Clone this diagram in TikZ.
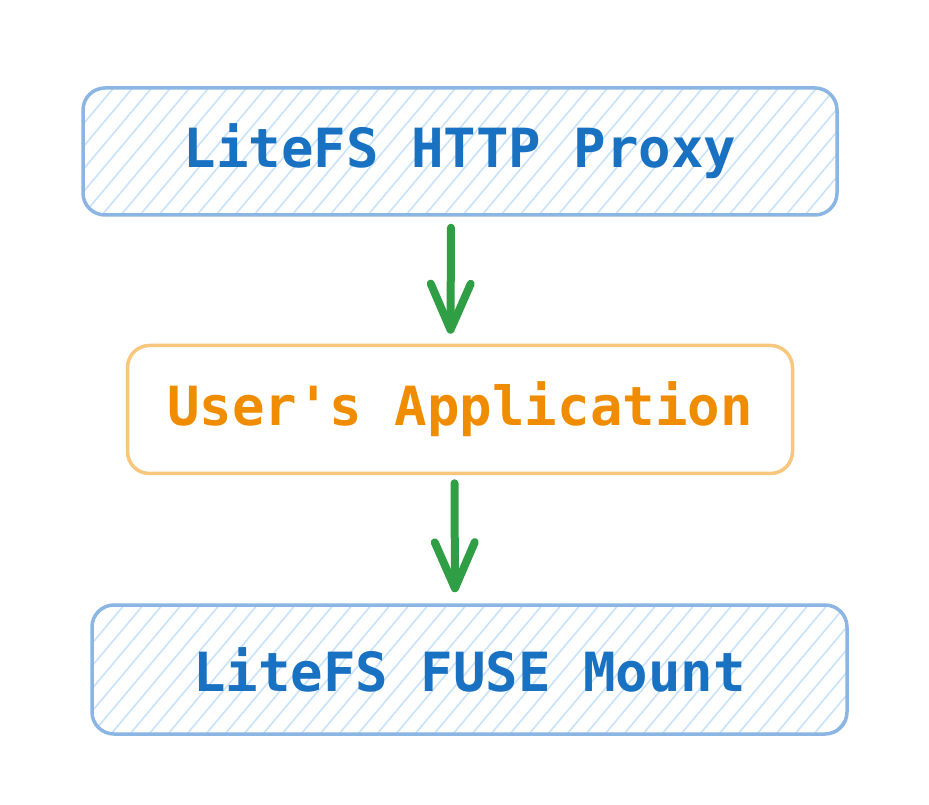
\documentclass[tikz,border=0pt]{standalone}
\usepackage{fontspec}
\newfontfamily\codefont{DejaVu Sans Mono}
\usetikzlibrary{positioning,arrows.meta}

\definecolor{boxblue}{HTML}{8BB5E2}
\definecolor{textblue}{HTML}{1971C2}
\definecolor{hatchblue}{HTML}{C8E2FA}
\definecolor{boxorange}{HTML}{F8C67C}
\definecolor{textorange}{HTML}{F08C00}
\definecolor{flowgreen}{HTML}{2F9E44}

\tikzset{
  hatched/.style={path picture={
      \foreach \i in {-8,...,44}
        \draw[hatchblue, line width=1.6pt]
          ([xshift=\i*19pt]path picture bounding box.south west) -- ++(50:220pt);
    }},
  layer/.style={draw=boxblue, line width=3.5pt, rounded corners=22pt,
    minimum width=754pt, minimum height=127pt, inner sep=0pt,
    text=textblue, font=\codefont\bfseries\fontsize{54}{60}\selectfont, hatched},
  app/.style={draw=boxorange, line width=3.5pt, rounded corners=22pt,
    minimum width=665pt, minimum height=128pt, inner sep=0pt,
    text=textorange, font=\codefont\bfseries\fontsize{54}{60}\selectfont},
  flow/.style={flowgreen, line width=8pt, line cap=round,
    -{Straight Barb[length=46pt, width=40pt, round]}}
}

\begin{document}
\begin{tikzpicture}[x=1pt, y=1pt]
  \useasboundingbox (0,0) rectangle (929,804);

  \node[layer] (proxy) at (460,652.5) {LiteFS HTTP Proxy};
  \node[app] (user) [below=127pt of proxy] {User's Application};
  \node[layer, minimum width=755pt, minimum height=129pt] (fuse)
    [below=128pt of user, xshift=9.5pt] {LiteFS FUSE Mount};

  \draw[flow, shorten <=11pt, shorten >=10pt]
    ([xshift=-9pt]proxy.south) -- ([xshift=-9.5pt]user.north);
  \draw[flow, shorten <=8pt, shorten >=11pt]
    ([xshift=-5.5pt]user.south) -- ([xshift=-14.5pt]fuse.north);
\end{tikzpicture}
\end{document}
